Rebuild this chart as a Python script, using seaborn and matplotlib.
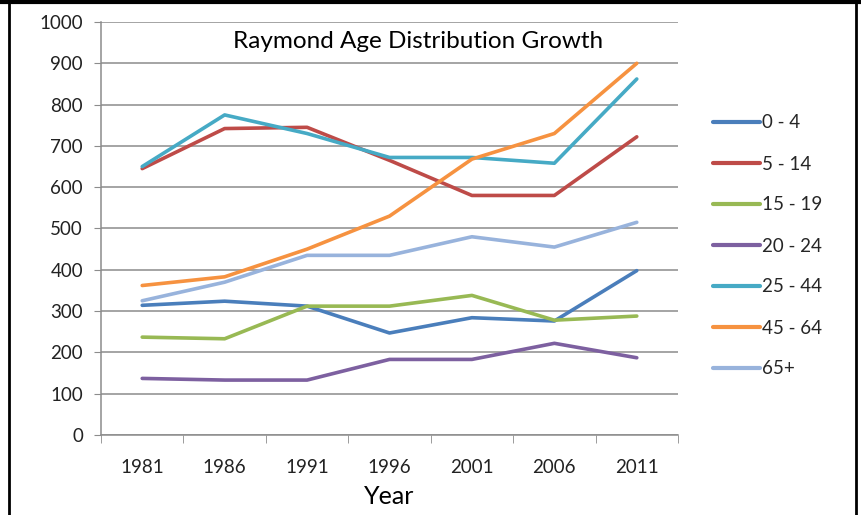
import numpy as np
import pandas as pd
import matplotlib
matplotlib.use('Agg')
import matplotlib.pyplot as plt
import seaborn as sns
from matplotlib.lines import Line2D

# Values
years = [1981, 1986, 1991, 1996, 2001, 2006, 2011]
groups = ['0 - 4', '5 - 14', '15 - 19', '20 - 24', '25 - 44', '45 - 64', '65+']
age_0_4 = [314, 324, 312, 247, 284, 276, 398]
age_5_14 = [645, 742, 745, 665, 580, 580, 722]
age_15_19 = [237, 233, 312, 312, 338, 278, 288]
age_20_24 = [137, 133, 133, 183, 183, 222, 187]
age_25_44 = [650, 775, 730, 672, 672, 658, 862]
age_45_64 = [362, 383, 450, 530, 668, 730, 900]
age_65_up = [325, 370, 435, 435, 480, 455, 515]
colors = ['#4A7EBB', '#BE4B48', '#98B954', '#7D60A0', '#46AAC5', '#F69240', '#98B3DC']

series = [age_0_4, age_5_14, age_15_19, age_20_24, age_25_44, age_45_64, age_65_up]
df = pd.DataFrame({
    'Year': years * len(groups),
    'group': np.repeat(groups, len(years)),
    'value': np.concatenate(series),
})

sns.set_style('white')
plt.rcParams['font.family'] = ['Lato', 'DejaVu Sans']

fig = plt.figure(figsize=(8.62, 5.15), dpi=100)
ax = fig.add_axes([101 / 862, 1 - 435 / 515, 577 / 862, 413 / 515])

sns.lineplot(data=df, x='Year', y='value', hue='group', hue_order=groups,
             palette=colors, linewidth=2.6, ax=ax, legend=False)

ax.set_xlim(1978.5, 2013.5)
ax.set_ylim(0, 1000)
ax.set_yticks(range(0, 1001, 100))
ax.set_xticks(years)
ax.set_xticks(np.arange(1978.5, 2014, 5), minor=True)
ax.grid(axis='y', color='#8c8c8c', linewidth=1.1)
ax.set_axisbelow(True)
for s in ['top', 'right']:
    ax.spines[s].set_visible(False)
for s in ['left', 'bottom']:
    ax.spines[s].set_color('#8c8c8c')
    ax.spines[s].set_linewidth(1.1)
ax.tick_params(axis='y', which='major', left=True, length=5, color='#8c8c8c',
               labelsize=13.5, labelcolor='#222222', pad=8)
ax.tick_params(axis='x', which='major', bottom=False, labelsize=13.5,
               labelcolor='#222222', pad=14)
ax.tick_params(axis='x', which='minor', bottom=True, length=6, color='#8c8c8c')
ax.set_xlabel('Year', fontsize=18, color='black', labelpad=6)
ax.set_ylabel('')

# Legend outside on the right
handles = [Line2D([0], [0], color=c, linewidth=3) for c in colors]
fig.legend(handles, groups, loc='upper left', bbox_to_anchor=(706 / 862, 1 - 107 / 515),
           frameon=False, fontsize=13.5, handlelength=2.5, handletextpad=0.1,
           labelspacing=1.28, borderaxespad=0)

fig.text(418 / 862, 1 - 42 / 515, 'Raymond Age Distribution Growth',
         ha='center', va='center', fontsize=17.5, color='black')

# Frame lines
fig.add_artist(Line2D([0, 1], [1 - 2 / 515, 1 - 2 / 515], color='black', linewidth=3,
                      transform=fig.transFigure))
fig.add_artist(Line2D([9 / 862, 9 / 862], [0, 1], color='black', linewidth=2,
                      transform=fig.transFigure))
fig.add_artist(Line2D([856 / 862, 856 / 862], [0, 1], color='black', linewidth=2,
                      transform=fig.transFigure))

fig.savefig('out.png', dpi=100)
